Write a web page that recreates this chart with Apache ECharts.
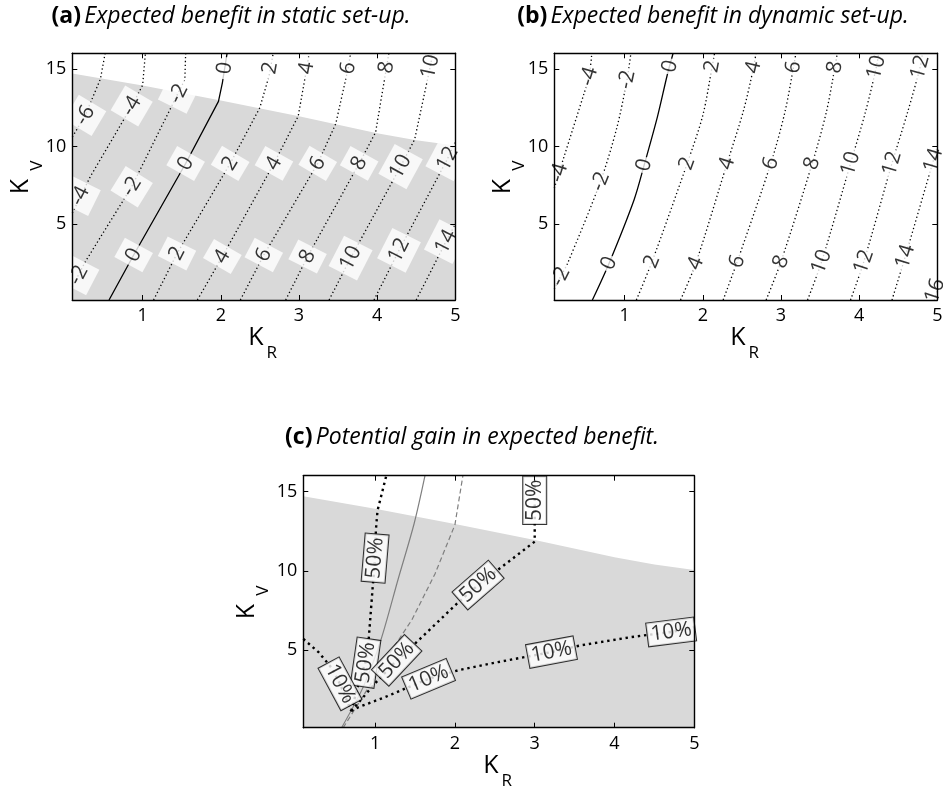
<!DOCTYPE html>
<html><head><meta charset="utf-8">
<script src="https://cdn.jsdelivr.net/npm/echarts@6/dist/echarts.min.js"></script>
<style>html,body{margin:0;padding:0;background:#fff}#c{width:943px;height:789px}</style>
</head><body><div id="c"></div>
<script>
// ---------- data ----------
const xTicks = [1, 2, 3, 4, 5];
const yTicks = [5, 10, 15];
const xRange = [0.1, 5];
const yRange = [0.1, 16];

// upper edge of the grey (feasible) region, shared by (a) and (c)
const feasibleBoundary = [[0.1,14.7],[1,13.92],[2,12.95],[3,11.95],[4,10.85],[4.5,10.4],[5,10.05]];

// (a) static set-up contours
const staticLevels = [-6,-4,-2,0,2,4,6,8,10,12,14];
const staticContours = [
  [[0.1,10.6],[0.265,12.0],[0.46,14.35],[0.52,16]],
  [[0.1,5.7],[0.33,8.05],[0.86,12.6],[1.0,13.95],[1.035,16]],
  [[0.1,0.95],[0.27,2.6],[0.86,7.4],[1.46,13.5],[1.54,14.3],[1.55,16]],
  [[0.57,0.1],[0.885,3.0],[1.55,8.9],[1.97,12.9],[2.02,14.1],[2.08,16]],
  [[1.14,0.1],[1.44,3.1],[2.12,8.9],[2.5,12.5],[2.62,14.6],[2.67,16]],
  [[1.70,0.1],[2.02,2.9],[2.68,8.9],[2.99,11.95],[3.1,15.05],[3.13,16]],
  [[2.25,0.1],[2.55,3.0],[3.24,8.9],[3.47,11.45],[3.63,15.05],[3.66,16]],
  [[2.83,0.1],[3.11,2.9],[3.77,8.9],[3.98,10.9],[4.12,15.1],[4.15,16]],
  [[3.385,0.1],[3.66,2.8],[4.30,8.7],[4.48,10.45],[4.68,15.15],[4.71,16]],
  [[3.96,0.1],[4.28,3.3],[4.9,9.2],[5.0,10.3]],
  [[4.50,0.1],[4.88,3.86],[5.0,5.0]]
];
// [level, KR, KV]
const staticLabels = [
  [-2,0.18,1.7],[0,0.885,3.0],[2,1.44,3.1],[4,2.02,2.9],[6,2.55,3.0],[8,3.11,2.9],[10,3.66,2.8],[12,4.28,3.3],[14,4.88,3.86],
  [-4,0.2,6.8],[-2,0.86,7.4],[0,1.55,8.9],[2,2.12,8.9],[4,2.68,8.9],[6,3.24,8.9],[8,3.77,8.9],[10,4.30,8.7],[12,4.9,9.2],
  [-6,0.265,12.0],[-4,0.86,12.6],[-2,1.46,13.4],[0,2.05,15.05],[2,2.63,15.05],[4,3.1,15.05],[6,3.63,15.05],[8,4.12,15.1],[10,4.68,15.15]
];

// (b) dynamic set-up contours
const dynamicLevels = [-4,-2,0,2,4,6,8,10,12,14,16];
const dynamicContours = [
  [[0.1,7.3],[0.16,8.3],[0.225,9.34],[0.48,13.4],[0.545,14.5],[0.58,16]],
  [[0.1,0.8],[0.18,1.6],[0.27,2.46],[0.69,7.73],[0.9,11.2],[1.03,14.3],[1.08,16]],
  [[0.587,0.1],[0.80,2.46],[1.12,6.55],[1.25,8.8],[1.42,11.92],[1.545,14.6],[1.62,16]],
  [[1.15,0.1],[1.35,2.57],[1.8,8.9],[2.0,12.0],[2.12,15.15],[2.15,16]],
  [[1.715,0.1],[1.91,2.46],[2.31,8.9],[2.52,12.3],[2.65,15.1],[2.68,16]],
  [[2.26,0.1],[2.44,2.57],[2.87,8.9],[3.05,12.2],[3.16,15.1],[3.19,16]],
  [[2.81,0.1],[3.0,2.57],[3.40,8.9],[3.58,12.2],[3.69,15.1],[3.72,16]],
  [[3.34,0.1],[3.52,2.57],[3.89,8.9],[4.08,12.2],[4.22,15.1],[4.25,16]],
  [[3.89,0.1],[4.06,2.57],[4.42,8.9],[4.62,12.2],[4.78,15.1],[4.81,16]],
  [[4.42,0.1],[4.59,2.9],[4.95,9.1],[5.0,10.0]],
  [[4.96,0.1],[5.0,0.7]]
];
const dynamicLabels = [
  [-4,0.16,8.3],[-4,0.545,14.5],[-2,0.18,1.6],[-2,0.69,7.73],[-2,1.03,14.3],
  [0,0.80,2.46],[0,1.25,8.8],[0,1.58,15.15],[2,1.35,2.57],[2,1.80,8.9],[2,2.12,15.15],
  [4,1.91,2.46],[4,2.31,8.9],[4,2.65,15.1],[6,2.44,2.57],[6,2.87,8.9],[6,3.16,15.1],
  [8,3.0,2.57],[8,3.40,8.9],[8,3.69,15.1],[10,3.52,2.57],[10,3.89,8.9],[10,4.22,15.1],
  [12,4.06,2.57],[12,4.42,8.9],[12,4.78,15.1],[14,4.59,2.9],[14,4.95,9.1],[16,4.97,0.7]
];

// (c) potential gain
const dynamicZeroC = [[0.58,0.1],[0.85,2.66],[1.07,5.6],[1.29,9.5],[1.49,13.0],[1.625,16]];
const staticZeroC = [[0.6,0.1],[0.9,2.5],[1.21,5.0],[1.46,6.9],[1.75,9.8],[2.0,12.9],[2.1,16]];
const gain50Left = [[0.7,1.15],[0.8,3.0],[0.875,4.14],[0.92,5.7],[0.97,9.0],[1.0,10.8],[1.01,12.6],[1.03,13.8],[1.14,16]];
const gain50Right = [[0.7,1.15],[1.0,2.9],[1.27,4.35],[1.5,5.4],[2.04,8.0],[2.29,9.1],[3.0,11.84],[3.0,16]];
const gain10Right = [[0.7,1.15],[0.79,1.39],[1.125,2.03],[1.42,2.66],[1.67,3.19],[2.04,3.72],[2.54,4.24],[3.21,4.87],[3.58,5.3],[4.21,5.82],[4.71,6.14],[5.0,6.45]];
const gain10Left = [[0.1,5.7],[0.29,4.87],[0.45,3.9],[0.56,2.87],[0.7,1.15]];
const gainLines = [gain50Left, gain50Right, gain10Right, gain10Left];
// [line index, text, KR, KV]
const gainLabels = [
  [0,'50%',1.0,10.8],[0,'50%',0.88,4.2],[1,'50%',1.27,4.35],[1,'50%',2.29,9.1],[1,'50%',3.0,14.45],
  [2,'10%',1.67,3.19],[2,'10%',3.21,4.87],[2,'10%',4.71,6.14],[3,'10%',0.56,2.87]
];

const titles = ['(a)', '(b)', '(c)'];
const subtitles = ['Expected benefit in static set-up.', 'Expected benefit in dynamic set-up.', 'Potential gain in expected benefit.'];

// ---------- layout ----------
const grids = [
  {left: 72.3, top: 53.3, width: 383, height: 246.7},
  {left: 554.3, top: 53.3, width: 383, height: 246.7},
  {left: 303.3, top: 475.7, width: 391, height: 252}
];
const FONT = 'Open Sans';
const chart = echarts.init(document.getElementById('c'));

const xAxes = [], yAxes = [];
grids.forEach((g, i) => {
  ['bottom', 'top'].forEach(pos => xAxes.push({
    type: 'value', gridIndex: i, position: pos, min: xRange[0], max: xRange[1], z: 10,
    axisLine: {show: true, onZero: false, lineStyle: {color: '#000', width: 1.4}},
    axisTick: {show: true, inside: true, length: 5, customValues: xTicks, lineStyle: {color: '#000', width: 1}},
    axisLabel: {show: pos === 'bottom', customValues: xTicks, color: '#000', fontSize: 18, fontFamily: FONT, margin: 7},
    splitLine: {show: false}
  }));
  ['left', 'right'].forEach(pos => yAxes.push({
    type: 'value', gridIndex: i, position: pos, min: yRange[0], max: yRange[1], z: 10,
    axisLine: {show: true, onZero: false, lineStyle: {color: '#000', width: 1.4}},
    axisTick: {show: true, inside: true, length: 5, customValues: yTicks, lineStyle: {color: '#000', width: 1}},
    axisLabel: {show: pos === 'left', customValues: yTicks, color: '#000', fontSize: 18, fontFamily: FONT, margin: 6},
    splitLine: {show: false}
  }));
});

const series = [];
const labelSets = [];
function ax(g) { return {xAxisIndex: 2 * g, yAxisIndex: 2 * g}; }
function addArea(g) {
  series.push(Object.assign({type: 'line', data: feasibleBoundary, symbol: 'none', silent: true,
    lineStyle: {width: 0}, areaStyle: {color: '#d9d9d9', opacity: 1, origin: 'start'}, z: 1}, ax(g)));
}
function addLine(g, pts, style, smooth) {
  series.push(Object.assign({type: 'line', data: pts, symbol: 'none', silent: true, smooth: smooth || false, lineStyle: style, z: 2}, ax(g)));
}
function addLabels(g, items, lbl) {
  series.push(Object.assign({type: 'scatter', symbolSize: 1, silent: true, z: 6,
    itemStyle: {color: 'rgba(0,0,0,0)'},
    label: Object.assign({show: true, position: 'inside', formatter: '{b}', color: '#000', fontFamily: FONT}, lbl),
    data: items.map(it => ({name: it.text, value: [it.x, it.y]}))}, ax(g)));
  labelSets.push({sIdx: series.length - 1, items});
}
const dotted = {color: '#000', width: 1.3, type: [1.3, 2.6], cap: 'butt'};
const solid = {color: '#000', width: 1.3, type: 'solid'};

// (a)
addArea(0);
staticContours.forEach((c, i) => addLine(0, c, staticLevels[i] === 0 ? solid : dotted));
addLabels(0, staticLabels.map(l => ({text: String(l[0]), x: l[1], y: l[2], poly: staticContours[staticLevels.indexOf(l[0])]})),
  {fontSize: 21, lineHeight: 22, backgroundColor: '#fff', padding: [5, 5]});
// (b)
dynamicContours.forEach((c, i) => addLine(1, c, dynamicLevels[i] === 0 ? solid : dotted, 0.3));
addLabels(1, dynamicLabels.map(l => ({text: String(l[0]), x: l[1], y: l[2], poly: dynamicContours[dynamicLevels.indexOf(l[0])]})),
  {fontSize: 21, lineHeight: 20, backgroundColor: '#fff', padding: [0, 2]});
// (c)
addArea(2);
addLine(2, dynamicZeroC, {color: '#7f7f7f', width: 1.2}, 0.3);
addLine(2, staticZeroC, {color: '#7f7f7f', width: 1.2, type: [5, 3]});
const thickDots = {color: '#000', width: 2.4, type: [2.4, 3.8], cap: 'butt'};
gainLines.forEach(c => addLine(2, c, thickDots));
addLabels(2, gainLabels.map(l => ({text: l[1], x: l[2], y: l[3], poly: gainLines[l[0]]})),
  {fontSize: 21, lineHeight: 23, backgroundColor: '#fff', borderColor: '#000', borderWidth: 1, padding: [0, 3]});

// texts (titles and axis names)
const graphic = [];
grids.forEach((g, i) => {
  const cx = g.left + g.width / 2;
  const titleY = i < 2 ? 16 : 437;
  graphic.push({type: 'text', x: [231, 713, 472][i], y: titleY, z: 20, style: {
    text: '{b|' + titles[i] + '} {t|' + subtitles[i] + '}', align: 'center', verticalAlign: 'middle',
    rich: {b: {fontWeight: 'bold', fontSize: 23, fontFamily: FONT, fill: '#000'},
           t: {fontStyle: 'italic', fontSize: 23, fontFamily: FONT, fill: '#000'}}}});
  const bottom = g.top + g.height;
  graphic.push({type: 'text', x: cx - 8, y: bottom + 38, z: 20, style: {text: 'K', fontSize: 25, fontFamily: FONT, fill: '#000', align: 'center', verticalAlign: 'middle'}});
  graphic.push({type: 'text', x: cx + 8, y: bottom + 53, z: 20, style: {text: 'R', fontSize: 17, fontFamily: FONT, fill: '#000', align: 'center', verticalAlign: 'middle'}});
  const kx = [21, 503, 247][i];
  const cy = g.top + g.height / 2;
  graphic.push({type: 'text', x: kx, y: cy + 10, rotation: Math.PI / 2, z: 20,
    style: {text: 'K', fontSize: 25, fontFamily: FONT, fill: '#000', align: 'center', verticalAlign: 'middle'}});
  graphic.push({type: 'text', x: kx + 16, y: cy - 11, rotation: Math.PI / 2, z: 20,
    style: {text: 'V', fontSize: 17, fontFamily: FONT, fill: '#000', align: 'center', verticalAlign: 'middle'}});
});

const option = {
  animation: false,
  backgroundColor: '#fff',
  grid: grids.map(g => Object.assign({show: false, outerBoundsMode: 'none', containLabel: false}, g)),
  xAxis: xAxes, yAxis: yAxes, series, graphic
};
chart.setOption(option);

// rotate every contour label along its line (angle measured in pixels)
function segDist(p, a, b) {
  const vx = b[0] - a[0], vy = b[1] - a[1];
  const L = vx * vx + vy * vy || 1;
  let t = ((p[0] - a[0]) * vx + (p[1] - a[1]) * vy) / L;
  t = Math.max(0, Math.min(1, t));
  const dx = a[0] + t * vx - p[0], dy = a[1] + t * vy - p[1];
  return dx * dx + dy * dy;
}
const upd = series.map(() => ({}));
labelSets.forEach(set => {
  const f = {seriesIndex: set.sIdx};
  upd[set.sIdx] = {data: set.items.map(it => {
    const P = it.poly.map(p => chart.convertToPixel(f, p));
    const q = chart.convertToPixel(f, [it.x, it.y]);
    let best = 0, bd = Infinity;
    for (let k = 0; k < P.length - 1; k++) {
      const d = segDist(q, P[k], P[k + 1]);
      if (d < bd - 1e-6) { bd = d; best = k; }
    }
    const a = P[best], b = P[best + 1];
    let deg = Math.atan2(a[1] - b[1], b[0] - a[0]) * 180 / Math.PI;
    if (deg > 90) deg -= 180;
    if (deg <= -90) deg += 180;
    return {name: it.text, value: [it.x, it.y], label: {rotate: deg}};
  })};
});
chart.setOption({series: upd});
</script></body></html>
